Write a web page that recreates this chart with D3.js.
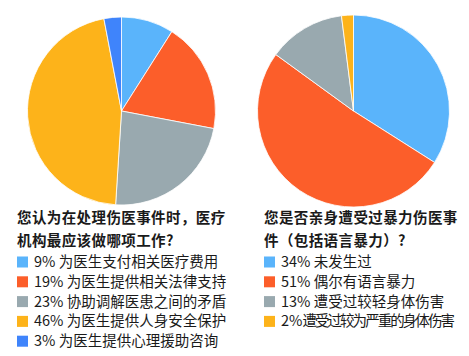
<!DOCTYPE html>
<html>
<head>
<meta charset="utf-8">
<script src="https://cdn.jsdelivr.net/npm/d3@7"></script>
<style>
  body { margin: 0; background: #fff; }
  text { font-family: "Noto Sans CJK SC", "Noto Sans", sans-serif; fill: #1a1a1a; }
</style>
</head>
<body>
<svg id="chart" width="469" height="356"></svg>
<script>
// left pie: what should the institution do
const leftTitle = ["您认为在处理伤医事件时，医疗", "机构最应该做哪项工作?"];
const leftLabels = ["为医生支付相关医疗费用", "为医生提供相关法律支持", "协助调解医患之间的矛盾", "为医生提供人身安全保护", "为医生提供心理援助咨询"];
const leftValues = [9, 19, 23, 46, 3];
const leftColors = ["#5ab4fb", "#fc5e2a", "#99a9af", "#fdb31a", "#3f84fb"];

// right pie: personally experienced violence
const rightTitle = ["您是否亲身遭受过暴力伤医事", "件（包括语言暴力）?"];
const rightLabels = ["未发生过", "偶尔有语言暴力", "遭受过较轻身体伤害", "遭受过较为严重的身体伤害"];
const rightValues = [34, 51, 13, 2];
const rightColors = ["#5ab4fb", "#fc5e2a", "#99a9af", "#fdb31a"];

const svg = d3.select("#chart");

function drawPie(cx, cy, r, values, colors) {
    const pie = d3.pie().sort(null).value(d => d);
    const arc = d3.arc().innerRadius(0).outerRadius(r);
    svg.append("g")
        .attr("transform", `translate(${cx},${cy})`)
        .selectAll("path")
        .data(pie(values))
        .join("path")
        .attr("d", arc)
        .attr("fill", (d, i) => colors[i])
        .attr("stroke", "#fff")
        .attr("stroke-width", 0.8);
}

function drawLegend(x, y, title, labels, values, colors, maxWidth) {
    const g = svg.append("g").attr("transform", `translate(${x},${y})`);
    g.selectAll("text.title")
        .data(title)
        .join("text")
        .attr("class", "title")
        .attr("x", 0)
        .attr("y", (d, i) => i * 23)
        .style("font-size", "14.5px")
        .style("font-weight", "bold")
        .style("letter-spacing", "0.4px")
        .text(d => d);

    const rows = g.selectAll("g.row")
        .data(labels)
        .join("g")
        .attr("class", "row")
        .attr("transform", (d, i) => `translate(0,${39 + i * 19.8})`);
    rows.append("rect")
        .attr("x", 0).attr("y", -5.5)
        .attr("width", 11).attr("height", 11)
        .attr("fill", (d, i) => colors[i]);
    rows.append("text")
        .attr("x", 17)
        .attr("y", 5)
        .style("font-size", "14.5px")
        .text((d, i) => `${values[i]}% ${d}`)
        .each(function(d, i) {
            // the long last row is packed tighter: no space, narrower CJK spacing
            if (this.getComputedTextLength() > maxWidth) {
                const t = d3.select(this).text(null);
                t.append("tspan").text(`${values[i]}%`);
                const rest = t.append("tspan").text(d);
                const over = this.getComputedTextLength() - maxWidth;
                rest.style("letter-spacing", `${-(over / d.length).toFixed(2)}px`);
            }
        });
}

drawPie(121.5, 111, 94, leftValues, leftColors);
drawPie(353.5, 111, 96, rightValues, rightColors);
drawLegend(17, 223, leftTitle, leftLabels, leftValues, leftColors, 200);
drawLegend(264, 223, rightTitle, rightLabels, rightValues, rightColors, 172);
</script>
</body>
</html>
